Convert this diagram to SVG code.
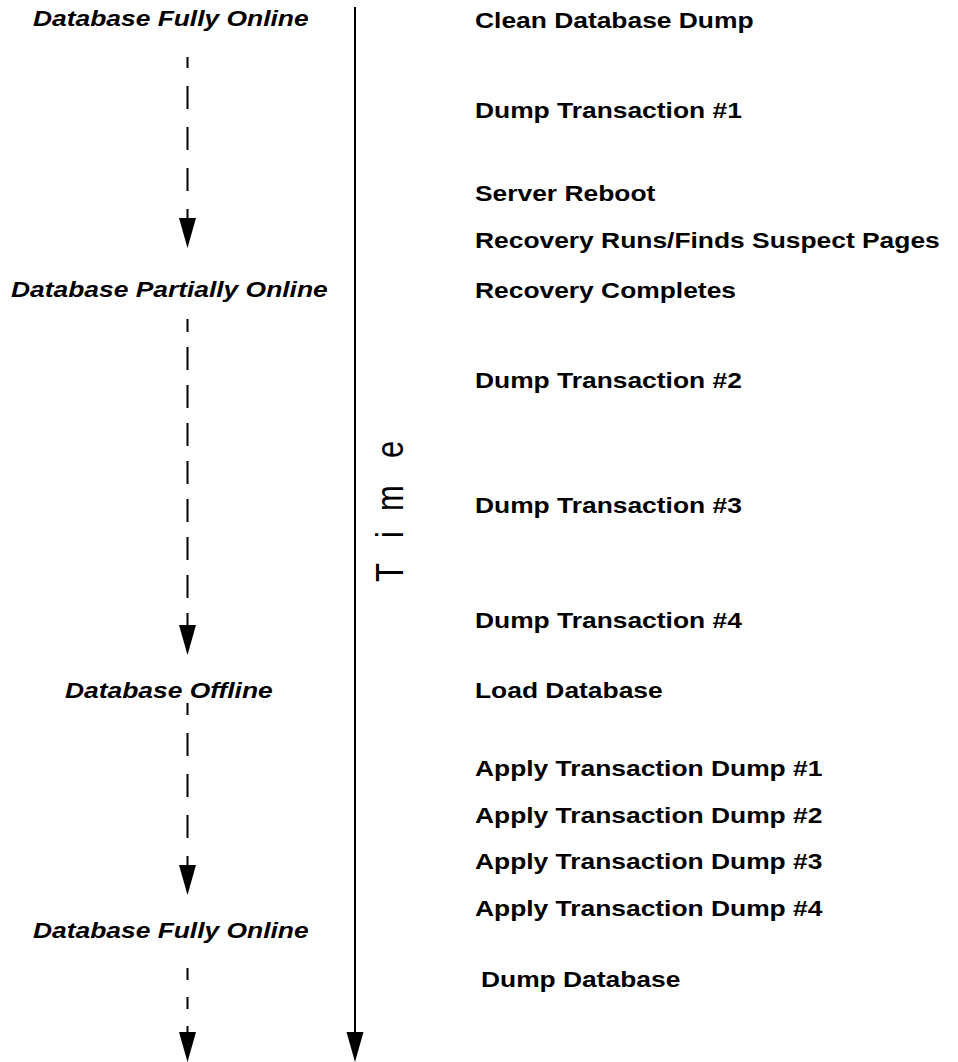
<svg xmlns="http://www.w3.org/2000/svg" xmlns:xlink="http://www.w3.org/1999/xlink" width="958" height="1062" viewBox="0 0 958 1062">
<style>
  .st { font-family: "Liberation Sans", Arial, sans-serif; font-size: 22px; font-weight: bold; font-style: italic; fill: #000; }
  .ev { font-family: "Liberation Sans", Arial, sans-serif; font-size: 22px; font-weight: bold; fill: #000; }
  .tm { font-family: "Liberation Sans", Arial, sans-serif; font-size: 31px; fill: #000; }
  .dash { fill: none; stroke: #000; stroke-width: 2; }
  .solid { fill: none; stroke: #000; stroke-width: 2; }
</style>
<defs>
  <path id="ah" d="M-8.5,-30 L8.5,-30 L0,0 Z" fill="#000"/>
</defs>
<rect width="958" height="1062" fill="#fff"/>

<g id="connectors">
  <path class="solid" d="M355 7 V1036"/>
  <use xlink:href="#ah" href="#ah" x="355" y="1062"/>
  <path class="dash" d="M187.5 57 V220" stroke-dasharray="23 18" stroke-dashoffset="12"/>
  <use xlink:href="#ah" href="#ah" x="187.5" y="248"/>
  <path class="dash" d="M187.5 319 V627" stroke-dasharray="23 15" stroke-dashoffset="10"/>
  <use xlink:href="#ah" href="#ah" x="187.5" y="655"/>
  <path class="dash" d="M187.5 703 V868" stroke-dasharray="23 18" stroke-dashoffset="11"/>
  <use xlink:href="#ah" href="#ah" x="187.5" y="895"/>
  <path class="dash" d="M187.5 968 V1035" stroke-dasharray="12 17"/>
  <use xlink:href="#ah" href="#ah" x="187.5" y="1062"/>
</g>

<g id="state-online-1"><text class="st" transform="translate(33 26) scale(1.2 1)">Database Fully Online</text></g>
<g id="state-partial"><text class="st" transform="translate(11 297) scale(1.2 1)">Database Partially Online</text></g>
<g id="state-offline"><text class="st" transform="translate(65 698) scale(1.2 1)">Database Offline</text></g>
<g id="state-online-2"><text class="st" transform="translate(33 938) scale(1.2 1)">Database Fully Online</text></g>

<g id="time-axis-label"><text class="tm" transform="translate(403 582) rotate(-90) scale(1 1.26)" x="0 44 71 124">Time</text></g>

<g id="ev-clean-dump"><text class="ev" transform="translate(475 28) scale(1.2 1)">Clean Database Dump</text></g>
<g id="ev-dump-tx1"><text class="ev" transform="translate(475 118) scale(1.2 1)">Dump Transaction #1</text></g>
<g id="ev-reboot"><text class="ev" transform="translate(475 201) scale(1.2 1)">Server Reboot</text></g>
<g id="ev-recovery-runs"><text class="ev" transform="translate(475 248) scale(1.2 1)">Recovery Runs/Finds Suspect Pages</text></g>
<g id="ev-recovery-completes"><text class="ev" transform="translate(475 298) scale(1.2 1)">Recovery Completes</text></g>
<g id="ev-dump-tx2"><text class="ev" transform="translate(475 388) scale(1.2 1)">Dump Transaction #2</text></g>
<g id="ev-dump-tx3"><text class="ev" transform="translate(475 513) scale(1.2 1)">Dump Transaction #3</text></g>
<g id="ev-dump-tx4"><text class="ev" transform="translate(475 628) scale(1.2 1)">Dump Transaction #4</text></g>
<g id="ev-load-db"><text class="ev" transform="translate(475 698) scale(1.2 1)">Load Database</text></g>
<g id="ev-apply-1"><text class="ev" transform="translate(475 776) scale(1.2 1)">Apply Transaction Dump #1</text></g>
<g id="ev-apply-2"><text class="ev" transform="translate(475 823) scale(1.2 1)">Apply Transaction Dump #2</text></g>
<g id="ev-apply-3"><text class="ev" transform="translate(475 869) scale(1.2 1)">Apply Transaction Dump #3</text></g>
<g id="ev-apply-4"><text class="ev" transform="translate(475 916) scale(1.2 1)">Apply Transaction Dump #4</text></g>
<g id="ev-dump-db"><text class="ev" transform="translate(481 987) scale(1.2 1)">Dump Database</text></g>
</svg>
